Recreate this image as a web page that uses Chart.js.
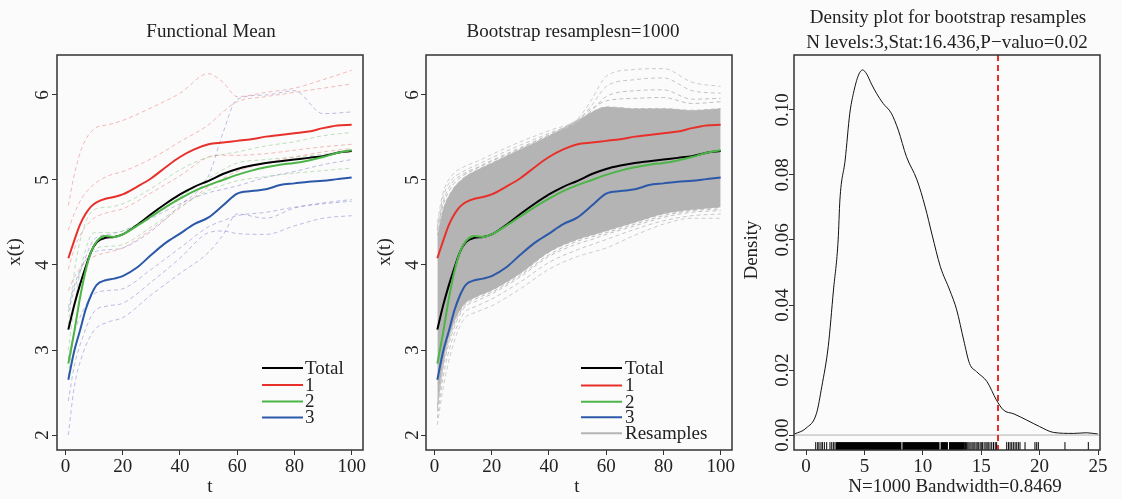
<!DOCTYPE html>
<html>
<head>
<meta charset="utf-8">
<script src="https://cdn.jsdelivr.net/npm/chart.js@4.4.0/dist/chart.umd.min.js"></script>
<style>
  html, body { margin: 0; padding: 0; background: #fbfbfb; }
  body { width: 1122px; height: 499px; position: relative; overflow: hidden; }
  .panel { position: absolute; top: 0; height: 499px; }
</style>
</head>
<body>
<div class="panel" style="left:0;width:370px"><canvas id="chartMean"></canvas></div>
<div class="panel" style="left:370px;width:370px"><canvas id="chartBoot"></canvas></div>
<div class="panel" style="left:740px;width:382px"><canvas id="chartDensity"></canvas></div>
<script>
// ---- data ----
var tGrid = [1, 3, 5, 7, 9, 11, 14, 17, 20, 25, 30, 35, 40, 45, 50, 55, 60, 65, 70, 75, 80, 85, 90, 95, 100];
var meanTotal = [3.24, 3.52, 3.76, 3.97, 4.16, 4.27, 4.32, 4.33, 4.36, 4.47, 4.60, 4.72, 4.83, 4.92, 4.99, 5.07, 5.13, 5.17, 5.20, 5.22, 5.24, 5.26, 5.28, 5.32, 5.34];
var mean1 = [4.08, 4.28, 4.47, 4.60, 4.69, 4.74, 4.78, 4.80, 4.83, 4.92, 5.02, 5.15, 5.27, 5.36, 5.42, 5.44, 5.46, 5.48, 5.51, 5.53, 5.55, 5.57, 5.61, 5.64, 5.65];
var mean2 = [2.84, 3.20, 3.60, 3.93, 4.16, 4.28, 4.34, 4.33, 4.36, 4.46, 4.57, 4.68, 4.78, 4.87, 4.94, 5.00, 5.06, 5.11, 5.15, 5.18, 5.20, 5.23, 5.27, 5.32, 5.35];
var mean3 = [2.65, 2.98, 3.22, 3.47, 3.65, 3.77, 3.82, 3.84, 3.87, 3.97, 4.12, 4.26, 4.37, 4.48, 4.56, 4.70, 4.84, 4.87, 4.89, 4.94, 4.96, 4.98, 4.99, 5.01, 5.03];

// individual curves (dashed), coarser t grid
var tShort = [1, 3, 6, 10, 15, 20, 30, 40, 50, 55, 60, 70, 80, 90, 100];
var red1 = [4.70, 5.05, 5.40, 5.60, 5.65, 5.70, 5.85, 6.02, 6.25, 6.15, 5.98, 6.03, 6.08, 6.18, 6.29];
var red2 = [4.41, 4.60, 4.80, 4.95, 5.05, 5.10, 5.25, 5.45, 5.65, 5.80, 5.92, 5.98, 6.03, 6.08, 6.13];
var red3 = [3.95, 4.18, 4.40, 4.55, 4.62, 4.66, 4.85, 5.05, 5.27, 5.29, 5.29, 5.31, 5.35, 5.39, 5.42];
var red4 = [3.70, 3.85, 4.00, 4.10, 4.15, 4.20, 4.42, 4.67, 4.92, 5.02, 5.10, 5.20, 5.27, 5.33, 5.37];
var green1 = [3.30, 3.90, 4.40, 4.65, 4.68, 4.72, 4.90, 5.12, 5.27, 5.30, 5.33, 5.40, 5.45, 5.52, 5.56];
var green2 = [2.70, 3.20, 3.75, 4.18, 4.22, 4.24, 4.45, 4.68, 4.88, 4.94, 4.99, 5.04, 5.08, 5.11, 5.14];
var green3 = [3.00, 3.50, 4.05, 4.38, 4.38, 4.40, 4.58, 4.80, 5.02, 5.12, 5.20, 5.24, 5.27, 5.30, 5.33];
var blue1 = [3.50, 3.75, 4.00, 4.15, 4.18, 4.20, 4.40, 4.70, 5.05, 5.55, 5.95, 6.00, 6.05, 5.78, 5.80];
var blue2 = [3.45, 3.70, 4.00, 4.30, 4.36, 4.40, 4.55, 4.72, 4.85, 4.89, 4.93, 5.03, 5.10, 5.18, 5.24];
var blue3 = [2.90, 3.20, 3.45, 3.66, 3.70, 3.72, 3.95, 4.20, 4.45, 4.52, 4.58, 4.62, 4.68, 4.72, 4.75];
var blue4 = [2.40, 2.80, 3.15, 3.45, 3.52, 3.55, 3.80, 4.08, 4.38, 4.40, 4.37, 4.36, 4.46, 4.55, 4.58];
var blue5 = [2.00, 2.55, 2.95, 3.23, 3.33, 3.38, 3.65, 3.90, 4.15, 4.35, 4.60, 4.55, 4.67, 4.73, 4.77];

// bootstrap resamples: dense core and the outlying curves
var bootUpper = [4.35, 4.65, 4.87, 5.02, 5.12, 5.20, 5.36, 5.52, 5.70, 5.80, 5.86, 5.84, 5.84, 5.82, 5.84];
var bootLower = [2.35, 2.85, 3.25, 3.52, 3.63, 3.70, 3.90, 4.15, 4.30, 4.35, 4.40, 4.50, 4.60, 4.65, 4.68];
var bootHi1 = [4.50, 4.85, 5.05, 5.15, 5.22, 5.30, 5.45, 5.58, 5.72, 5.95, 6.22, 6.30, 6.31, 6.15, 6.10];
var bootHi2 = [4.45, 4.80, 5.00, 5.10, 5.18, 5.26, 5.41, 5.55, 5.70, 5.88, 6.10, 6.18, 6.20, 6.05, 6.02];
var bootHi3 = [4.42, 4.74, 4.96, 5.07, 5.15, 5.23, 5.38, 5.53, 5.68, 5.82, 5.98, 6.05, 6.06, 5.95, 5.96];
var bootHi4 = [4.40, 4.70, 4.92, 5.05, 5.14, 5.22, 5.37, 5.53, 5.71, 5.84, 5.93, 5.96, 5.97, 5.90, 5.92];
var bootLo1 = [2.12, 2.55, 3.00, 3.35, 3.45, 3.52, 3.72, 3.95, 4.10, 4.15, 4.20, 4.35, 4.48, 4.55, 4.55];
var bootLo2 = [2.20, 2.68, 3.10, 3.42, 3.52, 3.60, 3.80, 4.03, 4.18, 4.24, 4.30, 4.42, 4.52, 4.58, 4.60];
var bootLo3 = [2.28, 2.78, 3.18, 3.48, 3.58, 3.66, 3.86, 4.10, 4.25, 4.30, 4.36, 4.46, 4.56, 4.62, 4.64];
var bootLo4 = [2.32, 2.82, 3.22, 3.50, 3.61, 3.68, 3.88, 4.12, 4.28, 4.33, 4.38, 4.48, 4.58, 4.64, 4.66];

// density of bootstrap statistic
var densX = [-1.0, 0.0, 0.9, 1.35, 1.9, 2.35, 2.75, 2.9, 3.35, 3.75, 4.05, 4.5, 4.85, 5.2, 5.6, 6.05, 6.6, 7.3, 7.9, 8.6, 9.5, 10.2, 10.8, 11.5, 12.3, 12.9, 13.5, 14.0, 14.6, 15.5, 16.3, 16.9, 17.8, 18.9, 20.0, 21.2, 22.9, 24.0, 25.0];
var densY = [0.0003, 0.0021, 0.0067, 0.0149, 0.0272, 0.0446, 0.060, 0.0723, 0.0846, 0.099, 0.105, 0.1108, 0.1123, 0.111, 0.108, 0.105, 0.102, 0.099, 0.0938, 0.0856, 0.0785, 0.0702, 0.0615, 0.0518, 0.0446, 0.0385, 0.0292, 0.022, 0.0195, 0.0164, 0.0108, 0.0077, 0.0065, 0.0046, 0.0026, 0.0008, 0.0005, 0.0007, 0.0003];
var rugTicks = [0.83, 1.0, 1.11, 1.28, 1.4, 1.57, 1.77, 2.05, 2.2, 2.34, 2.48,
  13.65, 13.75, 13.85, 13.95, 14.05, 14.2, 14.3, 14.4, 14.55, 14.65, 14.75, 14.9, 15.0, 15.1, 15.25, 15.4, 15.5, 15.6, 15.75, 15.9, 16.05, 16.2, 16.32,
  17.18, 17.33, 17.47, 17.61, 17.75, 17.9, 18.04, 18.18, 18.32, 18.75, 19.6, 19.75, 19.89, 22.17, 24.17];
// stretches where the rug is solid black
var rugBlocks = [[2.55, 8.17], [8.25, 11.43], [11.52, 12.15], [12.24, 13.6]];
var statValue = 16.436;

var meanTicks = [2, 3, 4, 5, 6];
var tTicks = [0, 20, 40, 60, 80, 100];
var densXTicks = [0, 5, 10, 15, 20, 25];
var densYTicks = [0, 0.02, 0.04, 0.06, 0.08, 0.10];

// ---- helpers ----
var FONT = '"Liberation Serif", "DejaVu Serif", serif';
var COL_TOTAL = '#000000', COL_1 = '#e8302b', COL_2 = '#4db548', COL_3 = '#2b58a8';

function toPoints(xs, ys) {
  return xs.map(function (x, i) { return { x: x, y: ys[i] }; });
}
function solidLine(xs, ys, color, width) {
  return { data: toPoints(xs, ys), borderColor: color, borderWidth: width, pointRadius: 0,
    cubicInterpolationMode: 'monotone', fill: false };
}
function dashLine(xs, ys, color) {
  return { data: toPoints(xs, ys), borderColor: color, borderWidth: 1, borderDash: [4, 3],
    pointRadius: 0, cubicInterpolationMode: 'monotone', fill: false };
}

function axisScales(xMin, xMax, xTicks, yMin, yMax, yTicks, yWidth) {
  var gridOpts = { drawOnChartArea: false, drawTicks: true, tickLength: 5, tickColor: '#333', tickWidth: 1 };
  return {
    x: {
      type: 'linear', min: xMin, max: xMax,
      afterBuildTicks: function (s) { s.ticks = xTicks.map(function (v) { return { value: v }; }); },
      afterFit: function (s) { s.height = 49; },
      grid: gridOpts,
      border: { display: false },
      ticks: { font: { family: FONT, size: 19 }, color: '#222', padding: 1, maxRotation: 0, autoSkip: false }
    },
    y: {
      type: 'linear', min: yMin, max: yMax,
      afterBuildTicks: function (s) { s.ticks = yTicks.map(function (v) { return { value: v }; }); },
      afterFit: function (s) { s.width = yWidth; },
      grid: gridOpts,
      border: { display: false },
      ticks: { display: false }
    }
  };
}

// box, rotated y labels, titles, legend, rug and reference lines in R style
var panelDecor = {
  id: 'panelDecor',
  afterDraw: function (chart, args, opts) {
    var ctx = chart.ctx, a = chart.chartArea;
    var xs = chart.scales.x, ys = chart.scales.y;
    ctx.save();
    if (opts.rugY !== undefined) {
      var yc = ys.getPixelForValue(opts.rugY);
      ctx.fillStyle = '#000';
      rugBlocks.forEach(function (b) {
        var x0 = xs.getPixelForValue(b[0]), x1 = xs.getPixelForValue(b[1]);
        ctx.fillRect(x0, yc - 4, x1 - x0, 8);
      });
    }
    if (opts.zeroLine) {
      var y0 = ys.getPixelForValue(0);
      ctx.strokeStyle = '#b0b0b0'; ctx.lineWidth = 1;
      ctx.beginPath(); ctx.moveTo(a.left, y0); ctx.lineTo(a.right, y0); ctx.stroke();
    }
    if (opts.vLine !== undefined) {
      var xv = xs.getPixelForValue(opts.vLine);
      ctx.strokeStyle = '#e8302b'; ctx.lineWidth = 2; ctx.setLineDash([6, 4]);
      ctx.beginPath(); ctx.moveTo(xv, a.top); ctx.lineTo(xv, a.bottom); ctx.stroke();
      ctx.setLineDash([]);
    }
    ctx.strokeStyle = '#333'; ctx.lineWidth = 1.5;
    ctx.strokeRect(a.left, a.top, a.right - a.left, a.bottom - a.top);

    ctx.fillStyle = '#222';
    ctx.font = '19px ' + FONT;
    ctx.textAlign = 'center'; ctx.textBaseline = 'middle';
    opts.texts.forEach(function (t) {
      ctx.save();
      ctx.translate(t.x, t.y);
      if (t.rot) ctx.rotate(-Math.PI / 2);
      ctx.fillText(t.text, 0, 0);
      ctx.restore();
    });
    ys.ticks.forEach(function (tk) {
      ctx.save();
      ctx.translate(opts.yLabelX, ys.getPixelForValue(tk.value));
      ctx.rotate(-Math.PI / 2);
      ctx.fillText(opts.yDigits ? tk.value.toFixed(opts.yDigits) : String(tk.value), 0, 0);
      ctx.restore();
    });
    if (opts.legend) {
      var L = opts.legend;
      ctx.textAlign = 'left';
      L.items.forEach(function (it, i) {
        var yy = L.rows[i];
        ctx.strokeStyle = it.color; ctx.lineWidth = 2;
        ctx.beginPath(); ctx.moveTo(L.x0, yy); ctx.lineTo(L.x1, yy); ctx.stroke();
        ctx.fillText(it.label, L.tx, yy + 1);
      });
    }
    ctx.restore();
  }
};

var legendBase = [
  { label: 'Total', color: COL_TOTAL },
  { label: '1', color: COL_1 },
  { label: '2', color: COL_2 },
  { label: '3', color: COL_3 }
];

Chart.defaults.font.family = FONT;

// ---- panel 1: functional mean ----
new Chart(document.getElementById('chartMean'), {
  type: 'line',
  data: {
    datasets: [
      solidLine(tGrid, mean3, COL_3, 2),
      solidLine(tGrid, mean2, COL_2, 2),
      solidLine(tGrid, mean1, COL_1, 2),
      solidLine(tGrid, meanTotal, COL_TOTAL, 2),
      dashLine(tShort, red1, 'rgba(238,120,120,0.5)'),
      dashLine(tShort, red2, 'rgba(238,120,120,0.5)'),
      dashLine(tShort, red3, 'rgba(238,120,120,0.5)'),
      dashLine(tShort, red4, 'rgba(238,120,120,0.5)'),
      dashLine(tShort, green1, 'rgba(110,190,110,0.45)'),
      dashLine(tShort, green2, 'rgba(110,190,110,0.45)'),
      dashLine(tShort, green3, 'rgba(110,190,110,0.45)'),
      dashLine(tShort, blue1, 'rgba(110,110,200,0.45)'),
      dashLine(tShort, blue2, 'rgba(110,110,200,0.45)'),
      dashLine(tShort, blue3, 'rgba(110,110,200,0.45)'),
      dashLine(tShort, blue4, 'rgba(110,110,200,0.45)'),
      dashLine(tShort, blue5, 'rgba(110,110,200,0.45)')
    ]
  },
  options: {
    responsive: true, maintainAspectRatio: false, animation: false, events: [],
    layout: { padding: { top: 55, right: 7, left: 0, bottom: 0 } },
    scales: axisScales(-2.96, 103.96, tTicks, 1.824, 6.47, meanTicks, 57),
    plugins: {
      legend: { display: false }, tooltip: { enabled: false },
      panelDecor: {
        yLabelX: 43,
        texts: [
          { text: 'Functional Mean', x: 211, y: 32 },
          { text: 'x(t)', x: 15, y: 252, rot: true },
          { text: 't', x: 210, y: 487 }
        ],
        legend: { x0: 262, x1: 303, tx: 305, rows: [368, 385, 401.5, 417.5], items: legendBase }
      }
    }
  },
  plugins: [panelDecor]
});

// ---- panel 2: bootstrap resamples ----
var bandTop = dashLine(tShort, bootUpper, '#bcbcbc');
bandTop.fill = '+1';
bandTop.backgroundColor = '#b4b4b4';
new Chart(document.getElementById('chartBoot'), {
  type: 'line',
  data: {
    datasets: [
      solidLine(tGrid, mean3, COL_3, 2),
      solidLine(tGrid, mean2, COL_2, 2),
      solidLine(tGrid, mean1, COL_1, 2),
      solidLine(tGrid, meanTotal, COL_TOTAL, 2),
      dashLine(tShort, bootHi1, '#cccccc'),
      dashLine(tShort, bootHi2, '#c6c6c6'),
      dashLine(tShort, bootHi3, '#c2c2c2'),
      dashLine(tShort, bootHi4, '#bebebe'),
      dashLine(tShort, bootLo1, '#cccccc'),
      dashLine(tShort, bootLo2, '#c6c6c6'),
      dashLine(tShort, bootLo3, '#c2c2c2'),
      dashLine(tShort, bootLo4, '#bebebe'),
      bandTop,
      dashLine(tShort, bootLower, '#bcbcbc')
    ]
  },
  options: {
    responsive: true, maintainAspectRatio: false, animation: false, events: [],
    layout: { padding: { top: 55, right: 8, left: 0, bottom: 0 } },
    scales: axisScales(-2.96, 103.96, tTicks, 1.824, 6.47, meanTicks, 56),
    plugins: {
      legend: { display: false }, tooltip: { enabled: false },
      filler: { propagate: false },
      panelDecor: {
        yLabelX: 43,
        texts: [
          { text: 'Bootstrap resamplesn=1000', x: 203, y: 32 },
          { text: 'x(t)', x: 15, y: 252, rot: true },
          { text: 't', x: 207, y: 487 }
        ],
        legend: { x0: 211, x1: 252, tx: 255, rows: [368, 385.5, 401.7, 417.3, 433.3],
          items: legendBase.concat([{ label: 'Resamples', color: '#b4b4b4' }]) }
      }
    }
  },
  plugins: [panelDecor]
});

// ---- panel 3: density of the statistic ----
var rugY = -0.0034;
new Chart(document.getElementById('chartDensity'), {
  type: 'line',
  data: {
    datasets: [
      { data: toPoints(densX, densY), borderColor: '#111', borderWidth: 1, pointRadius: 0,
        cubicInterpolationMode: 'monotone', fill: false },
      { data: rugTicks.map(function (v) { return { x: v, y: rugY }; }), showLine: false,
        pointStyle: 'line', pointRadius: 4, pointRotation: 90, pointBorderColor: '#000',
        pointBorderWidth: 1, pointBackgroundColor: '#000' }
    ]
  },
  options: {
    responsive: true, maintainAspectRatio: false, animation: false, events: [],
    layout: { padding: { top: 55, right: 22, left: 0, bottom: 0 } },
    scales: axisScales(-1.03, 25.17, densXTicks, -0.0046, 0.1169, densYTicks, 54),
    plugins: {
      legend: { display: false }, tooltip: { enabled: false },
      panelDecor: {
        yLabelX: 43, yDigits: 2, zeroLine: true, vLine: statValue, rugY: rugY,
        texts: [
          { text: 'Density plot for bootstrap resamples', x: 208, y: 18 },
          { text: 'N levels:3,Stat:16.436,P\u2212valuo=0.02', x: 207, y: 43 },
          { text: 'Density', x: 12, y: 250, rot: true },
          { text: 'N=1000 Bandwidth=0.8469', x: 215, y: 487 }
        ]
      }
    }
  },
  plugins: [panelDecor]
});
</script>
</body>
</html>
